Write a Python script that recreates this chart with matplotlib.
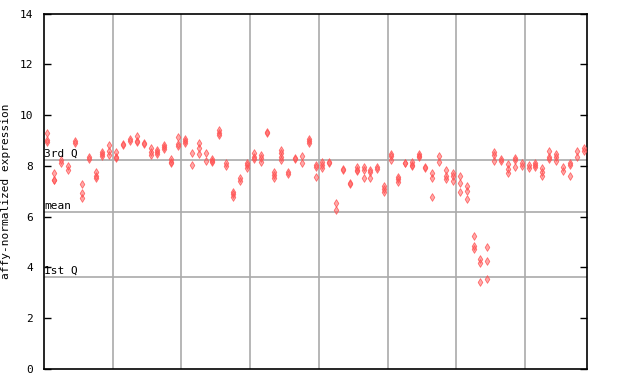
import matplotlib
matplotlib.use("Agg")
import matplotlib.pyplot as plt

# expression values per sample column (replicates)
samples = [
    [9.28, 9.0, 8.95], [7.7, 7.45, 7.45], [8.22, 8.1], [8.0, 7.85], [8.98, 8.9],
    [7.28, 6.92, 6.72], [8.33, 8.27], [7.75, 7.62, 7.52], [8.55, 8.48, 8.38], [8.82, 8.57, 8.43],
    [8.53, 8.33, 8.3], [8.88, 8.82], [9.07, 8.97], [9.18, 8.96, 8.93], [8.9, 8.86],
    [8.69, 8.55, 8.42], [8.62, 8.53, 8.48], [8.82, 8.76, 8.66], [8.27, 8.17, 8.1], [9.13, 8.88, 8.8],
    [9.05, 8.97, 8.9], [8.49, 8.03], [8.89, 8.7, 8.46], [8.49, 8.18], [8.28, 8.2, 8.16],
    [9.4, 9.3, 9.22], [8.12, 8.0], [6.96, 6.9, 6.76], [7.52, 7.42], [8.1, 8.05, 7.9],
    [8.49, 8.33, 8.26], [8.43, 8.3, 8.17], [9.32, 9.3], [7.77, 7.64, 7.52], [8.62, 8.49, 8.36, 8.23],
    [7.77, 7.68], [8.32, 8.27], [8.39, 8.13], [9.05, 8.96, 8.89], [8.03, 7.94, 7.55],
    [8.17, 8.05, 7.9], [8.17, 8.12], [6.53, 6.26], [7.87, 7.83], [7.33, 7.28],
    [7.94, 7.85, 7.78], [7.95, 7.82, 7.51], [7.84, 7.74, 7.51], [7.97, 7.87], [7.2, 7.08, 6.98],
    [8.47, 8.37, 8.25], [7.57, 7.47, 7.36], [8.13, 8.1], [8.17, 8.05, 8.0], [8.47, 8.38, 8.34],
    [7.97, 7.9], [7.72, 7.51, 6.76], [8.37, 8.14], [7.84, 7.6, 7.47], [7.71, 7.62, 7.39],
    [7.6, 7.31, 6.96], [7.21, 7.0, 6.69], [5.22, 4.83, 4.73], [4.33, 4.17, 3.42], [4.81, 4.25, 3.53],
    [8.53, 8.43, 8.18], [8.27, 8.2], [8.06, 7.86, 7.71], [8.31, 8.25, 7.94], [8.1, 8.0],
    [8.02, 7.93], [8.13, 8.03, 7.94], [7.9, 7.75, 7.59], [8.57, 8.36, 8.28], [8.47, 8.34, 8.2],
    [7.97, 7.8], [8.13, 8.03, 7.6], [8.57, 8.36], [8.69, 8.58],
]
q3_value = 8.23
mean_value = 6.19
q1_value = 3.61
y_ticks = [0, 2, 4, 6, 8, 10, 12, 14]
group_size = 10

plt.rcParams['font.family'] = ['DejaVu Sans Mono']

fig = plt.figure(figsize=(6.4, 3.84), dpi=100)
ax = fig.add_axes([44/640, 15/384, 543/640, 355.5/384])

n = len(samples)
ax.set_xlim(-0.5, n - 0.5)
ax.set_ylim(0, 14)

grid_c = '#aaaaaa'
for b in range(group_size, n, group_size):
    ax.axvline(b - 0.5, color=grid_c, lw=1.2, zorder=1)
for v in (q3_value, mean_value, q1_value):
    ax.axhline(v, color=grid_c, lw=1.2, zorder=1)

xs, ys = [], []
for i, vals in enumerate(samples):
    for v in vals:
        xs.append(i)
        ys.append(v)
ax.scatter(xs, ys, marker='d', s=15, facecolor=(1, 0.33, 0.33, 0.5),
           edgecolor=(1, 0.33, 0.33, 0.85), linewidths=0.6, zorder=3)

ax.text(-0.45, q3_value + 0.05, '3rd Q', fontsize=8, va='bottom', ha='left', zorder=4)
ax.text(-0.45, mean_value + 0.05, 'mean', fontsize=8, va='bottom', ha='left', zorder=4)
ax.text(-0.45, q1_value + 0.05, '1st Q', fontsize=8, va='bottom', ha='left', zorder=4)

ax.set_yticks(y_ticks)
ax.set_yticklabels([str(t) for t in y_ticks], fontsize=8)
ax.set_xticks([])
ax.tick_params(axis='y', direction='in', length=5, width=1, right=True, left=True, pad=8)
for s in ax.spines.values():
    s.set_linewidth(1.2)
    s.set_color('black')

ax.set_ylabel('affy-normalized expression', fontsize=8, labelpad=6)

fig.savefig('out.png', dpi=100)
